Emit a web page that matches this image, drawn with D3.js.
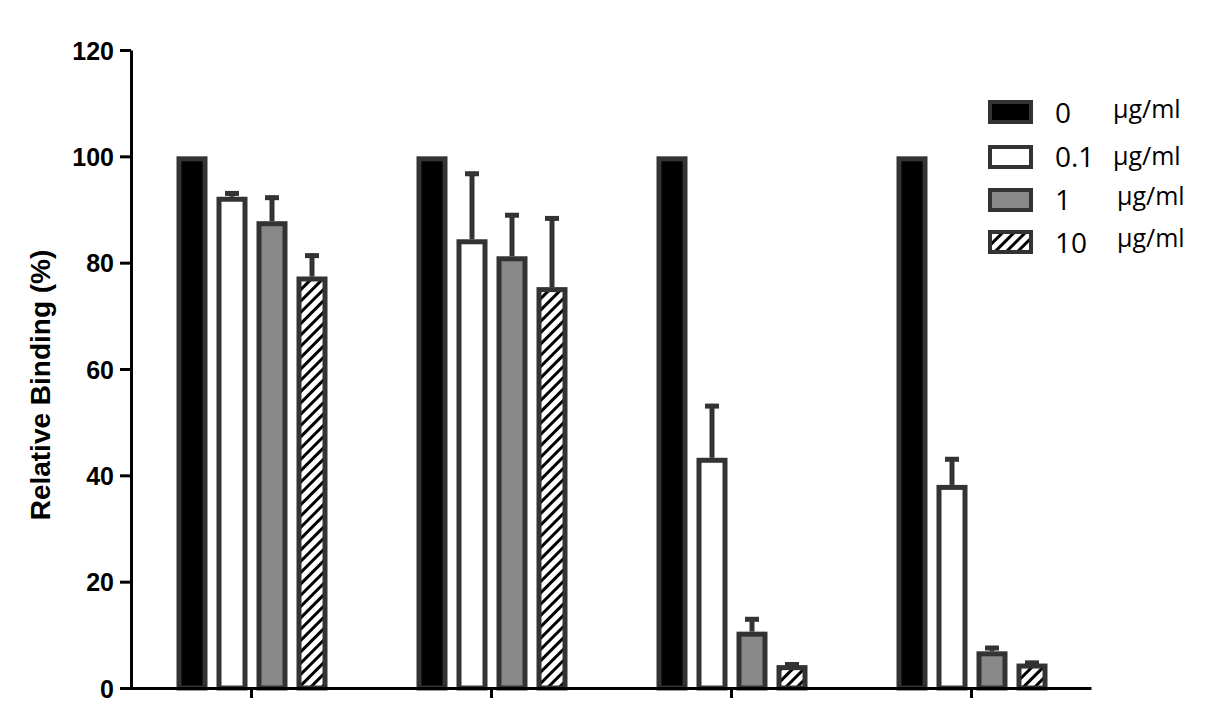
<!DOCTYPE html>
<html><head><meta charset="utf-8">
<script src="https://cdn.jsdelivr.net/npm/d3@7"></script>
<style>body{margin:0;background:#fff}svg{display:block}</style>
</head><body>
<svg id="c" width="1228" height="722"></svg>
<script>
const groups = ["A","B","C","D"];
const series = ["0","0.1","1","10"];
const unitLabel = "µg/ml";
const values = [
  [100, 92.4, 87.8, 77.4],
  [100, 84.4, 81.2, 75.4],
  [100, 43.3, 10.6, 4.3],
  [100, 38.2, 6.9, 4.6]
];
const errors = [
  [0, 1.0, 4.8, 4.3],
  [0, 12.7, 8.1, 13.3],
  [0, 10.1, 2.7, 0.5],
  [0, 5.2, 1.0, 0.5]
];
const yTicks = [0, 20, 40, 60, 80, 100, 120];
const yTitle = "Relative Binding (%)";

const svg = d3.select("#c");
const ink = "#333";
const defs = svg.append("defs");
const pat = defs.append("pattern").attr("id","hatch").attr("patternUnits","userSpaceOnUse")
  .attr("width",8).attr("height",8).attr("patternTransform","rotate(45)");
pat.append("rect").attr("width",8).attr("height",8).attr("fill","#fff");
pat.append("rect").attr("x",0).attr("width",3).attr("height",8).attr("fill","#000");
const fills = {"0":"#000","0.1":"#fff","1":"#888","10":"url(#hatch)"};

const y = d3.scaleLinear().domain([0,120]).range([688,50]);
const x0 = d3.scaleBand().domain(groups).range([131,1091]).padding(0);
const x1 = d3.scaleBand().domain(series).range([-80,80]).paddingInner(0.225).paddingOuter(0.1125);

// bars
const sw = 5;
groups.forEach((g,gi)=>{
  const cx = x0(g) + x0.bandwidth()/2;
  series.forEach((s,si)=>{
    const v = values[gi][si], e = errors[gi][si];
    const bx = cx + x1(s) + 1;
    const bw = x1.bandwidth();
    if (e > 0) {
      const mx = bx + bw/2;
      svg.append("line").attr("x1",mx).attr("x2",mx).attr("y1",y(v)).attr("y2",y(v+e))
        .attr("stroke",ink).attr("stroke-width",5);
      svg.append("line").attr("x1",mx-7).attr("x2",mx+7).attr("y1",y(v+e)+2).attr("y2",y(v+e)+2)
        .attr("stroke",ink).attr("stroke-width",5);
    }
    svg.append("rect").attr("x",bx+sw/2).attr("y",y(v)+sw/2)
      .attr("width",bw-sw).attr("height",y(0)-y(v)-sw/2)
      .attr("fill",fills[s]).attr("stroke",ink).attr("stroke-width",sw);
  });
});

// y axis
const yAxis = d3.axisLeft(y).tickValues(yTicks).tickSize(11).tickPadding(6).tickSizeOuter(0);
const ya = svg.append("g").attr("transform","translate(131,0)").call(yAxis);
ya.select(".domain").attr("stroke","#000").attr("stroke-width",3);
ya.selectAll(".tick line").attr("stroke","#000").attr("stroke-width",3);
ya.selectAll(".tick text").attr("font-family","Liberation Sans, Arial, sans-serif")
  .attr("font-weight","bold").attr("font-size",25).attr("fill","#000").attr("dy","0.36em");

// x axis
const xAxis = d3.axisBottom(d3.scaleLinear().domain([122,1091]).range([122,1091]))
  .tickValues(groups.map(g=>x0(g)+x0.bandwidth()/2)).tickSize(10).tickSizeOuter(0).tickFormat("");
const xa = svg.append("g").attr("transform","translate(0,688)").call(xAxis);
xa.select(".domain").attr("stroke","#000").attr("stroke-width",3);
xa.selectAll(".tick line").attr("stroke","#000").attr("stroke-width",3);

svg.append("text").attr("transform","translate(50,385) rotate(-90)").attr("text-anchor","middle")
  .attr("font-family","Liberation Sans, Arial, sans-serif").attr("font-weight","bold")
  .attr("font-size",28).text(yTitle);

// legend
const boxTop = [102, 147, 190, 232];
const labBase = [123, 167, 210, 253];
const unitBase = [118, 165, 205, 247];
const unitX = [1113, 1113, 1117, 1117];
series.forEach((s,i)=>{
  svg.append("rect").attr("x",990).attr("y",boxTop[i]).attr("width",41).attr("height",20)
    .attr("fill",fills[s]).attr("stroke",ink).attr("stroke-width",4);
  svg.append("text").attr("x",1055).attr("y",labBase[i]).attr("font-family","Open Sans, sans-serif")
    .attr("font-size",28).attr("fill","#000").text(s);
  svg.append("text").attr("x",unitX[i]).attr("y",unitBase[i]).attr("font-family","Open Sans, sans-serif")
    .attr("font-size",25).attr("fill","#000").text(unitLabel);
});
</script>
</body></html>
